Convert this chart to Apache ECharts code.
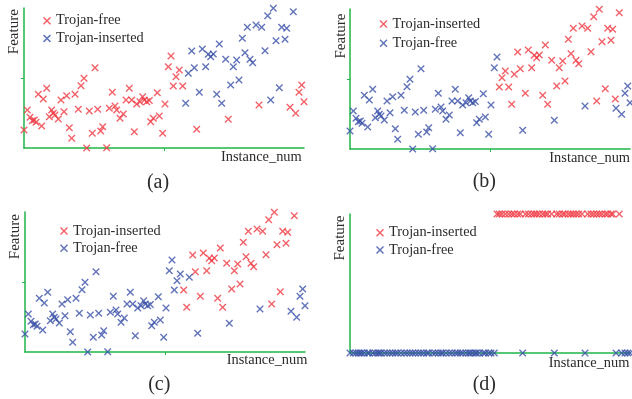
<!DOCTYPE html>
<html><head><meta charset="utf-8">
<script src="https://cdn.jsdelivr.net/npm/echarts@6/dist/echarts.min.js"></script>
<style>html,body{margin:0;padding:0;background:#fff}#c{width:632px;height:399px}</style>
</head><body><div id="c"></div>
<script>
// Shared point cloud (Instance_num, Feature)
const cloudCore = [[0,18],[3.3,38],[6,30.7],[8.3,27.3],[10.3,28],[12,25.7],[17.7,22],[14.3,53.7],[19.3,49],[22.7,59.7],
 [25.3,31.3],[27.7,38],[29.3,34.7],[31,33],[34.3,29],[37,48],[40,36.3],[42.7,52.3],[45.3,20.3],[47.7,9.7],
 [51,53.7],[54.3,38.7],[57,62.3],[60,69.7],[62.7,0],[65.3,37],[68.3,14.7],[71,80.3],[73.7,38.7],[76.7,17],
 [78.7,21.3],[82.7,0.3],[85.3,39.7],[88.3,55.7],[91,42],[92.7,38],[96,29.7],[99.3,34],[102,48],[105.3,59.7],
 [107.7,48],[110.3,16.3],[112.7,44],[116,46.3],[118.7,51.3],[120.3,48],[122.7,46.3],[125.3,47.6],[126.7,26.3],[129.3,29.7],
 [133.3,55.3],[135.3,32],[138.7,14.7],[141,44]];
const cloudMid = [[144.3,81.3],[147,92],[149.3,62],[152,71.3],[155.3,78],[158.7,62]];
const cloudLow = [[172.7,18.7],[204.3,28.7],[235,43],[266,40.7],[271.7,34.7],[275,55.7],[277.7,63],[280,46.3]];
const cloudUpper = [[161.7,44.7],[164.3,74.7],[167.7,97],[170.3,80.3],[175.3,55.7],[178.3,99],[181.7,81.3],[184.3,93.7],
 [186.7,91.3],[189.3,94],[192.7,53.7],[195.3,104],[197.7,44.7],[201.7,88.7],[206.7,63],[209.3,81.3],[212.7,88],[215,68],
 [218.3,109.7],[221,95.3],[223.3,120.7],[226,88.7],[228.7,85.3],[232,123],[237.7,120.7],[241,97.3],[243.7,132.3],
 [246.7,48],[249.3,139.7],[252,107.3],[255.3,60.3],[257.7,120.7],[261,108.7],[262.7,119.7],[269.3,136.3]];
const extraInsertedB = [[265.3,50]];
// Class of the middle points per panel (F = Trojan-free, I = Trojan-inserted)
const midClassA = ['F','F','F','F','F','F'];
const midClassB = ['F','F','I','I','I','I'];
const midClassC = ['F','F','F','F','F','I'];
const midClassD = ['F','I','I','I','I','I'];
const upperFreeIndexC = [1];
// Panel (d): binary feature levels
const dLevelFree = 0, dLevelInserted = 140;
const legendA = ['Trojan-free','Trojan-inserted'];
const legendBCD = ['Trojan-inserted','Trojan-free'];
const panelTags = ['(a)','(b)','(c)','(d)'];

const RED = '#f03a44', BLUE = '#3a50a8', GREEN = '#1fb548', TXT = '#2b2b2b';
const FONT = '"Liberation Serif", "Times New Roman", serif';
const CROSS = 'path://M0,1.3L1.3,0L5,3.7L8.7,0L10,1.3L6.3,5L10,8.7L8.7,10L5,6.3L1.3,10L0,8.7L3.7,5Z';

function split(midCls, upperFreeIdx, extraIns) {
  const free = cloudCore.slice(), ins = [];
  cloudMid.forEach((p,i)=> (midCls[i]==='F'?free:ins).push(p));
  cloudLow.forEach(p=>free.push(p));
  cloudUpper.forEach((p,i)=> (upperFreeIdx.indexOf(i)>=0?free:ins).push(p));
  (extraIns||[]).forEach(p=>ins.push(p));
  return {free, ins};
}
const A = split(midClassA, [], []);
const B = split(midClassB, [], extraInsertedB);
const C = split(midClassC, upperFreeIndexC, []);
const Dr = split(midClassD, [], []);
const D = {free: Dr.free.map(p=>[p[0], dLevelFree]), ins: Dr.ins.map(p=>[p[0], dLevelInserted])};

const grids = [
  {left:24, top:8, width:280, height:140},
  {left:350, top:9, width:280, height:140},
  {left:25, top:212, width:280, height:140},
  {left:350, top:214, width:280, height:139}
];
const xAxis = grids.map((g,i)=>({gridIndex:i, type:'value', min:0, max:280, interval:140,
  axisLine:{show:true, onZero:false, lineStyle:{color:GREEN, width:1.5}},
  axisTick:{show:i<3, length:3, customValues:[140], lineStyle:{color:GREEN}},
  axisLabel:{show:false}, splitLine:{show:false}}));
const yAxis = grids.map((g,i)=>({gridIndex:i, type:'value', min:0, max:140, interval:70,
  axisLine:{show:true, onZero:false, lineStyle:{color:GREEN, width:1.5}},
  axisTick:{show:i<3, length:3, customValues:[70], lineStyle:{color:GREEN}},
  axisLabel:{show:false}, splitLine:{show:false}}));

function sc(name, idx, data, color){
  return {type:'scatter', name:name, xAxisIndex:idx, yAxisIndex:idx, data:data, symbol:CROSS, symbolSize:7.5,
    itemStyle:{color:color}, silent:true, clip:false};
}
const series = [
  sc('a:Trojan-free',0,A.free,RED), sc('a:Trojan-inserted',0,A.ins,BLUE),
  sc('b:Trojan-inserted',1,B.ins,RED), sc('b:Trojan-free',1,B.free,BLUE),
  sc('c:Trojan-inserted',2,C.ins,RED), sc('c:Trojan-free',2,C.free,BLUE),
  sc('d:Trojan-inserted',3,D.ins,RED), sc('d:Trojan-free',3,D.free,BLUE)
];
function lg(prefix, names, left, top, gap){
  return {left:left, top:top, orient:'vertical', padding:0, itemWidth:8, itemHeight:8, itemGap:gap,
    selectedMode:false, formatter:n=>n.split(':')[1],
    textStyle:{fontFamily:FONT, fontSize:14.3, color:TXT, lineHeight:14},
    data:names.map(n=>({name:prefix+':'+n, icon:CROSS}))};
}
const legend = [lg('a',legendA,43,13.7,3.7), lg('b',legendBCD,379.5,17,5.3), lg('c',legendBCD,60,224,3.3), lg('d',legendBCD,376,225.7,3.3)];

function txt(s, x, y, size, align, rot){
  return {type:'text', x:x, y:y, rotation:rot||0, silent:true,
    style:{text:s, font:size+'px '+FONT, fill:TXT, textAlign:align, textVerticalAlign:'middle'}};
}
const featPos = [[14,31.7],[341,36],[15,236.7],[340,238]];
const instPos = [[221,157],[549.3,158.3],[226.7,360.7],[548.7,363.3]];
const tagPos = [[158,183],[484.3,181.7],[159.3,385],[484.3,385]];
const graphic = [];
for (let i=0;i<4;i++){
  graphic.push(txt('Feature', featPos[i][0], featPos[i][1], 15, 'center', Math.PI/2));
  graphic.push(txt('Instance_num', instPos[i][0], instPos[i][1], 14.4, 'left'));
  graphic.push(txt(panelTags[i], tagPos[i][0], tagPos[i][1], 20, 'center'));
}

const chart = echarts.init(document.getElementById('c'), null, {renderer:'canvas'});
chart.setOption({animation:false, backgroundColor:'#fff', grid:grids, xAxis:xAxis, yAxis:yAxis,
  legend:legend, series:series, graphic:graphic});
</script></body></html>
